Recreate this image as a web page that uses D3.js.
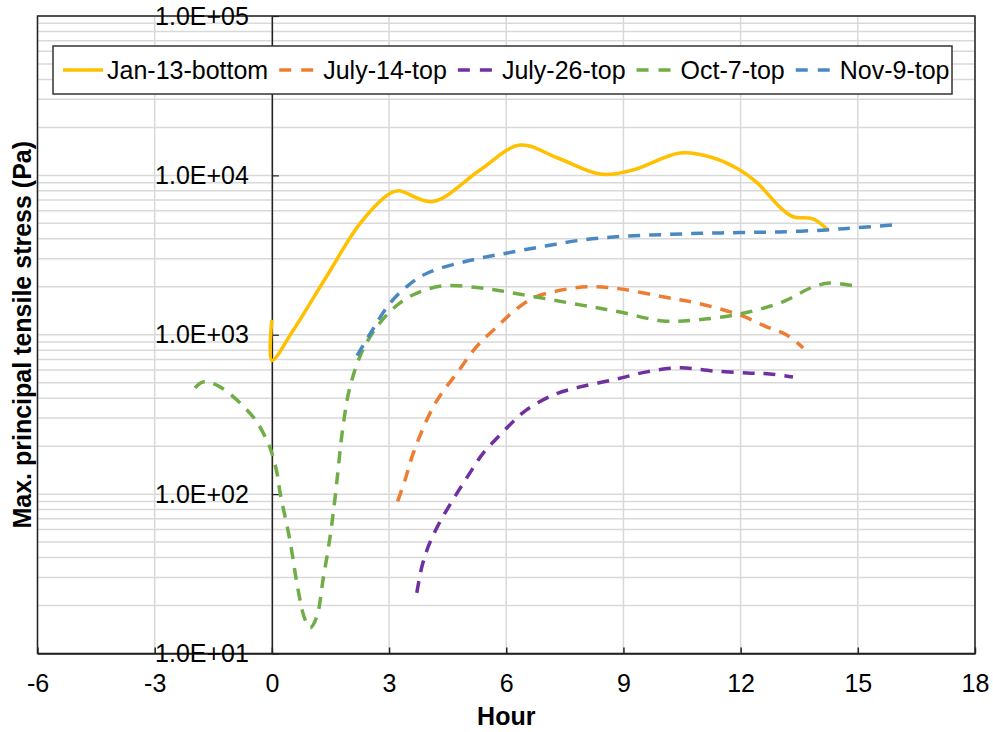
<!DOCTYPE html>
<html><head><meta charset="utf-8">
<script src="https://cdn.jsdelivr.net/npm/d3@7"></script>
<style>
body{margin:0;background:#fff;}
svg{display:block;font-family:"Liberation Sans",Arial,sans-serif;}
</style>
</head><body>
<svg id="chart" width="993" height="732"></svg>
<script>
// ---- data ----
const seriesNames = ["Jan-13-bottom", "July-14-top", "July-26-top", "Oct-7-top", "Nov-9-top"];
const seriesColors = ["#FFC000", "#ED7D31", "#7030A0", "#70AD47", "#4A88C2"];
const seriesDashed = [false, true, true, true, true];

const janHours  = [0, 0, 0.55, 1.4, 2.26, 3.02, 3.25, 4.12, 5.33, 6.35, 7.3, 8.4, 9.24, 10.45, 11.29, 11.98, 12.42, 13.01, 13.34, 13.85, 14.21];
const janValues = [1240, 690, 1070, 2320, 5000, 7700, 8000, 6850, 10800, 15500, 12900, 10200, 10800, 13800, 12900, 10800, 9000, 6300, 5500, 5330, 4600];

const jul14Hours  = [3.22, 3.41, 3.62, 4.05, 4.35, 4.74, 5.07, 5.33, 5.76, 6.17, 6.69, 7.2, 8.07, 8.91, 10.01, 10.88, 11.98, 12.67, 13.18, 13.6];
const jul14Values = [90, 123, 181, 323, 431, 575, 748, 890, 1120, 1390, 1700, 1860, 2000, 1940, 1730, 1580, 1330, 1120, 998, 826];

const jul26Hours  = [3.71, 3.84, 4.0, 4.23, 4.51, 4.82, 5.12, 5.41, 5.79, 6.22, 6.52, 7.2, 7.89, 8.74, 9.6, 10.45, 11.29, 12.16, 12.75, 13.34];
const jul26Values = [24, 35, 46.6, 62, 82, 109, 142, 181, 228, 292, 338, 419, 471, 521, 585, 620, 593, 575, 567, 543];

const oct7Hours  = [-1.97, -1.76, -1.33, -0.48, -0.13, 0, 0.13, 0.21, 0.46, 0.67, 0.85, 0.98, 1.15, 1.31, 1.49, 1.62, 1.82, 2.0, 2.33, 2.77, 3.28, 3.79, 4.38, 5.33, 6.17, 7.89, 8.91, 10.01, 10.88, 11.98, 13.08, 13.85, 14.29, 14.93];
const oct7Values = [464, 506, 471, 305, 218, 181, 136, 102, 51.6, 25.1, 16.3, 14.5, 17, 29, 54, 96, 264, 471, 804, 1190, 1585, 1860, 2025, 1970, 1830, 1540, 1390, 1220, 1240, 1350, 1610, 1995, 2110, 2020];

const nov9Hours  = [2.18, 2.5, 3, 3.5, 4, 5, 6, 7, 8, 9, 10, 11, 12, 13, 14.2, 15, 16];
const nov9Values = [740, 1000, 1550, 2050, 2450, 2900, 3250, 3600, 3950, 4150, 4250, 4330, 4380, 4420, 4550, 4700, 4900];

const seriesHours  = [janHours, jul14Hours, jul26Hours, oct7Hours, nov9Hours];
const seriesValues = [janValues, jul14Values, jul26Values, oct7Values, nov9Values];

const xTickValues = [-6, -3, 0, 3, 6, 9, 12, 15, 18];
const yTickValues = [10, 100, 1000, 10000, 100000];
const yTickLabels = ["1.0E+01", "1.0E+02", "1.0E+03", "1.0E+04", "1.0E+05"];
const xTitle = "Hour";
const yTitle = "Max. principal tensile stress (Pa)";

// ---- layout ----
const L = 37.5, R = 975, T = 16, B = 653.5;
const FS = 25;
const svg = d3.select("#chart");
const x = d3.scaleLinear().domain([-6, 18]).range([L, R]);
const y = d3.scaleLog().domain([10, 100000]).range([B, T]);

// grid
const grid = svg.append("g");
grid.selectAll("line.h").data(y.ticks()).join("line")
  .attr("x1", L).attr("x2", R)
  .attr("y1", d => y(d)).attr("y2", d => y(d))
  .attr("stroke", "#d9d9d9").attr("stroke-width", 1.5);
grid.selectAll("line.v").data(xTickValues).join("line")
  .attr("x1", d => x(d)).attr("x2", d => x(d))
  .attr("y1", T).attr("y2", B)
  .attr("stroke", "#d9d9d9").attr("stroke-width", 1.5);

// frame
svg.append("rect").attr("x", L).attr("y", T).attr("width", R - L).attr("height", B - T)
  .attr("fill", "none").attr("stroke", "#222").attr("stroke-width", 1.5);

// x axis
const xAxis = svg.append("g").attr("transform", `translate(0,${B})`)
  .call(d3.axisBottom(x).tickValues(xTickValues).tickFormat(d => String(d))
    .tickSizeInner(-6).tickSizeOuter(0).tickPadding(21));
xAxis.select(".domain").attr("stroke", "#222").attr("stroke-width", 1.5);
xAxis.selectAll(".tick line").attr("stroke", "#222").attr("stroke-width", 1.5);
xAxis.selectAll("text").attr("font-size", FS).attr("fill", "#000")
  .attr("font-family", "'Liberation Sans', Arial, sans-serif");

// y axis at x = 0
const yAxis = svg.append("g").attr("transform", `translate(${x(0)},0)`)
  .call(d3.axisLeft(y).tickValues(yTickValues).tickFormat((d, i) => yTickLabels[i])
    .tickSizeInner(-7).tickSizeOuter(0).tickPadding(23));
yAxis.select(".domain").attr("stroke", "#222").attr("stroke-width", 1.5);
yAxis.selectAll(".tick line").attr("stroke", "#222").attr("stroke-width", 1.2);
yAxis.selectAll("text").attr("font-size", FS).attr("fill", "#000")
  .attr("font-family", "'Liberation Sans', Arial, sans-serif");

// titles
svg.append("text").attr("x", (L + R) / 2).attr("y", 725).attr("text-anchor", "middle")
  .attr("font-size", FS).attr("font-weight", "bold").text(xTitle);
svg.append("text").attr("transform", `translate(31,${(T + B) / 2}) rotate(-90)`)
  .attr("text-anchor", "middle").attr("font-size", FS).attr("font-weight", "bold").text(yTitle);

// series
const line = d3.line().x(d => x(d[0])).y(d => y(d[1])).curve(d3.curveCatmullRom.alpha(0.5));
const plot = svg.append("g");
seriesNames.forEach((name, i) => {
  const pts = seriesHours[i].map((h, j) => [h, seriesValues[i][j]]);
  plot.append("path").datum(pts)
    .attr("d", line)
    .attr("fill", "none")
    .attr("stroke", seriesColors[i])
    .attr("stroke-width", 3.5)
    .attr("stroke-dasharray", seriesDashed[i] ? "12,9" : null)
    .attr("stroke-linejoin", "round");
});

// legend
const lg = svg.append("g");
lg.append("rect").attr("x", 53).attr("y", 46).attr("width", 899).attr("height", 48)
  .attr("fill", "#fff").attr("stroke", "#333").attr("stroke-width", 1.5);
let cx = 63;
seriesNames.forEach((name, i) => {
  lg.append("line").attr("x1", cx).attr("x2", cx + 40).attr("y1", 70).attr("y2", 70)
    .attr("stroke", seriesColors[i]).attr("stroke-width", 3.5)
    .attr("stroke-dasharray", seriesDashed[i] ? "12,10" : null);
  const t = lg.append("text").attr("x", cx + 44).attr("y", 70).attr("dy", "0.35em")
    .attr("font-size", FS).attr("fill", "#000").text(name);
  cx += 44 + t.node().getComputedTextLength() + 11;
});
</script>
</body></html>
